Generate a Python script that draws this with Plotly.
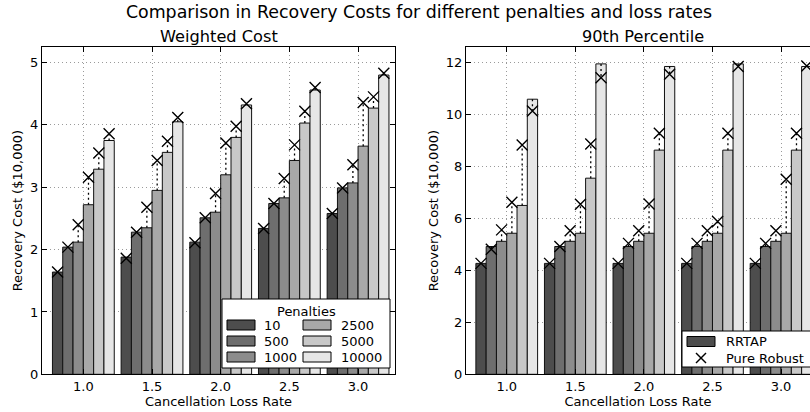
import plotly.graph_objects as go
from plotly.subplots import make_subplots

# ---------------- data ----------------
rates = [1.0, 1.5, 2.0, 2.5, 3.0]
rate_labels = ["1.0", "1.5", "2.0", "2.5", "3.0"]
penalties = ["10", "500", "1000", "2500", "5000", "10000"]
colors = ["#4d4d4d", "#6e6e6e", "#8c8c8c", "#a8a8a8", "#c8c8c8", "#e6e6e6"]

# Weighted cost ($10,000) - RRTAP bars, one list per penalty across rates
w_p10 = [1.64, 1.88, 2.12, 2.34, 2.58]
w_p500 = [2.04, 2.28, 2.51, 2.74, 2.99]
w_p1000 = [2.12, 2.35, 2.60, 2.83, 3.07]
w_p2500 = [2.72, 2.95, 3.20, 3.43, 3.66]
w_p5000 = [3.29, 3.56, 3.80, 4.03, 4.27]
w_p10000 = [3.75, 4.05, 4.32, 4.56, 4.80]

# Weighted cost - Pure Robust markers
wr_p10 = [1.64, 1.86, 2.11, 2.34, 2.58]
wr_p500 = [2.04, 2.28, 2.51, 2.74, 2.99]
wr_p1000 = [2.40, 2.68, 2.90, 3.14, 3.36]
wr_p2500 = [3.16, 3.43, 3.71, 3.68, 4.36]
wr_p5000 = [3.55, 3.74, 3.98, 4.22, 4.45]
wr_p10000 = [3.86, 4.12, 4.34, 4.60, 4.83]

# 90th percentile - RRTAP bars
p_p10 = [4.27, 4.27, 4.27, 4.27, 4.27]
p_p500 = [4.92, 4.92, 4.92, 4.92, 4.92]
p_p1000 = [5.12, 5.12, 5.12, 5.12, 5.12]
p_p2500 = [5.43, 5.43, 5.43, 5.43, 5.43]
p_p5000 = [6.50, 7.55, 8.63, 8.63, 8.63]
p_p10000 = [10.59, 11.95, 11.85, 11.95, 11.85]

# 90th percentile - Pure Robust markers
pr_p10 = [4.27, 4.27, 4.27, 4.27, 4.27]
pr_p500 = [4.81, 4.92, 5.04, 5.04, 5.04]
pr_p1000 = [5.56, 5.53, 5.53, 5.53, 5.53]
pr_p2500 = [6.62, 6.55, 6.56, 5.88, 7.51]
pr_p5000 = [8.83, 8.87, 9.28, 9.28, 9.28]
pr_p10000 = [10.14, 11.42, 11.55, 11.85, 11.87]

weighted_bars = [w_p10, w_p500, w_p1000, w_p2500, w_p5000, w_p10000]
weighted_rob = [wr_p10, wr_p500, wr_p1000, wr_p2500, wr_p5000, wr_p10000]
pct_bars = [p_p10, p_p500, p_p1000, p_p2500, p_p5000, p_p10000]
pct_rob = [pr_p10, pr_p500, pr_p1000, pr_p2500, pr_p5000, pr_p10000]

# ---------------- layout helpers ----------------
W, H = 810, 412
FONT = "DejaVu Sans"
BAR_GAP = 0.1
n = len(penalties)
spacing = rates[1] - rates[0]
bar_w = spacing * (1 - BAR_GAP) / n


def px(x):
    return x / W


def py(y):
    return 1 - y / H


fig = make_subplots(rows=1, cols=2)

for col, (bars, rob) in enumerate([(weighted_bars, weighted_rob), (pct_bars, pct_rob)], start=1):
    cx, cy, mx, my = [], [], [], []
    for i, (name, color, vals, rvals) in enumerate(zip(penalties, colors, bars, rob)):
        fig.add_trace(
            go.Bar(
                x=rates, y=vals, name=name, showlegend=False,
                marker=dict(color=color, line=dict(color="#111111", width=1)),
            ),
            row=1, col=col,
        )
        for r, v, rv in zip(rates, vals, rvals):
            xc = r + (i - (n - 1) / 2) * bar_w
            cx += [xc, xc, None]
            cy += [v, rv, None]
            mx.append(xc)
            my.append(rv)
    fig.add_trace(
        go.Scatter(x=cx, y=cy, mode="lines", showlegend=False, hoverinfo="skip",
                   line=dict(color="black", width=1.3, dash="2px,3px")),
        row=1, col=col,
    )
    fig.add_trace(
        go.Scatter(x=mx, y=my, mode="markers", name="Pure Robust", showlegend=False,
                   marker=dict(symbol="x-thin", size=11, color="black",
                               line=dict(color="black", width=1.4))),
        row=1, col=col,
    )

axis_common = dict(
    showline=True, linecolor="black", linewidth=1,
    ticks="inside", ticklen=5, tickcolor="black", tickwidth=1,
    showgrid=True, gridcolor="#9a9a9a", griddash="1px,3px", gridwidth=1,
    zeroline=False,
    tickfont=dict(family=FONT, size=13, color="black"),
)

fig.update_layout(
    width=W, height=H,
    margin=dict(l=0, r=0, t=0, b=0, autoexpand=False),
    paper_bgcolor="white", plot_bgcolor="white",
    barmode="group", bargap=BAR_GAP, bargroupgap=0,
    font=dict(family=FONT, size=13, color="black"),
    showlegend=False,
    title=dict(text="Comparison in Recovery Costs for different penalties and loss rates",
               x=px(419), xanchor="center", y=1 - 12 / H, yanchor="middle",
               yref="container", font=dict(family=FONT, size=17.4, color="black")),
)

fig.update_xaxes(**axis_common)
fig.update_yaxes(**axis_common)

fig.update_layout(
    xaxis=dict(domain=[px(42), px(395)], range=[0.699, 3.269], tickvals=rates,
               ticktext=rate_labels, mirror="allticks",
               title=dict(text="Cancellation Loss Rate", standoff=2,
                          font=dict(family=FONT, size=13))),
    yaxis=dict(domain=[py(374.3), py(47)], range=[0, 5.25], dtick=1, mirror="allticks",
               title=dict(text="Recovery Cost ($10,000)", standoff=4,
                          font=dict(family=FONT, size=13))),
    xaxis2=dict(domain=[px(466), 1.0], range=[0.703, 3.211], tickvals=rates,
                ticktext=rate_labels, mirror="allticks",
                title=dict(text="Cancellation Loss Rate", standoff=2,
                           font=dict(family=FONT, size=13))),
    yaxis2=dict(domain=[py(374.3), py(47)], range=[0, 12.6], dtick=2, mirror=False,
                title=dict(text="Recovery Cost ($10,000)", standoff=4,
                           font=dict(family=FONT, size=13))),
)

annotations = [
    dict(text="Weighted Cost", x=px(218.5), y=py(37), xref="paper", yref="paper",
         showarrow=False, xanchor="center", yanchor="middle",
         font=dict(family=FONT, size=16.2, color="black")),
    dict(text="90th Percentile", x=px(642.5), y=py(37), xref="paper", yref="paper",
         showarrow=False, xanchor="center", yanchor="middle",
         font=dict(family=FONT, size=16.2, color="black")),
]
shapes = []

# ---- legend: Penalties (left subplot) ----
shapes.append(dict(type="rect", xref="paper", yref="paper", layer="above",
                   x0=px(222), x1=px(390), y0=py(368), y1=py(299),
                   fillcolor="white", line=dict(color="black", width=1)))
annotations.append(dict(text="Penalties", x=px(306), y=py(311), xref="paper", yref="paper",
                        showarrow=False, xanchor="center", yanchor="middle",
                        font=dict(family=FONT, size=13, color="black")))
row_y = [325, 341, 357]
col_x = [(227, 262), (303, 339)]
for i, (name, color) in enumerate(zip(penalties, colors)):
    c, r = divmod(i, 3)
    sx, tx = col_x[c]
    yy = row_y[r]
    shapes.append(dict(type="rect", xref="paper", yref="paper", layer="above",
                       x0=px(sx), x1=px(sx + 28), y0=py(yy + 5), y1=py(yy - 5),
                       fillcolor=color, line=dict(color="black", width=1)))
    annotations.append(dict(text=name, x=px(tx), y=py(yy), xref="paper", yref="paper",
                            showarrow=False, xanchor="left", yanchor="middle",
                            font=dict(family=FONT, size=13, color="black")))

# ---- legend: RRTAP / Pure Robust (right subplot, cropped at right edge) ----
shapes.append(dict(type="rect", xref="paper", yref="paper", layer="above",
                   x0=px(682), x1=px(840), y0=py(367), y1=py(331),
                   fillcolor="white", line=dict(color="black", width=1)))
shapes.append(dict(type="rect", xref="paper", yref="paper", layer="above",
                   x0=px(687), x1=px(715), y0=py(346.5), y1=py(336.5),
                   fillcolor=colors[0], line=dict(color="black", width=1)))
annotations.append(dict(text="RRTAP", x=px(724), y=py(341), xref="paper", yref="paper",
                        showarrow=False, xanchor="left", yanchor="middle",
                        font=dict(family=FONT, size=13, color="black")))
mxc, myc, hs = 701, 358, 5
shapes.append(dict(type="line", xref="paper", yref="paper", layer="above",
                   x0=px(mxc - hs), x1=px(mxc + hs), y0=py(myc - hs), y1=py(myc + hs),
                   line=dict(color="black", width=1.4)))
shapes.append(dict(type="line", xref="paper", yref="paper", layer="above",
                   x0=px(mxc - hs), x1=px(mxc + hs), y0=py(myc + hs), y1=py(myc - hs),
                   line=dict(color="black", width=1.4)))
annotations.append(dict(text="Pure Robust", x=px(724), y=py(358), xref="paper", yref="paper",
                        showarrow=False, xanchor="left", yanchor="middle",
                        font=dict(family=FONT, size=13, color="black")))

fig.update_layout(annotations=annotations, shapes=shapes)

fig.write_html("out.html", config={"displayModeBar": False},
               post_script="document.body.style.margin='0';document.body.style.overflow='hidden';")
